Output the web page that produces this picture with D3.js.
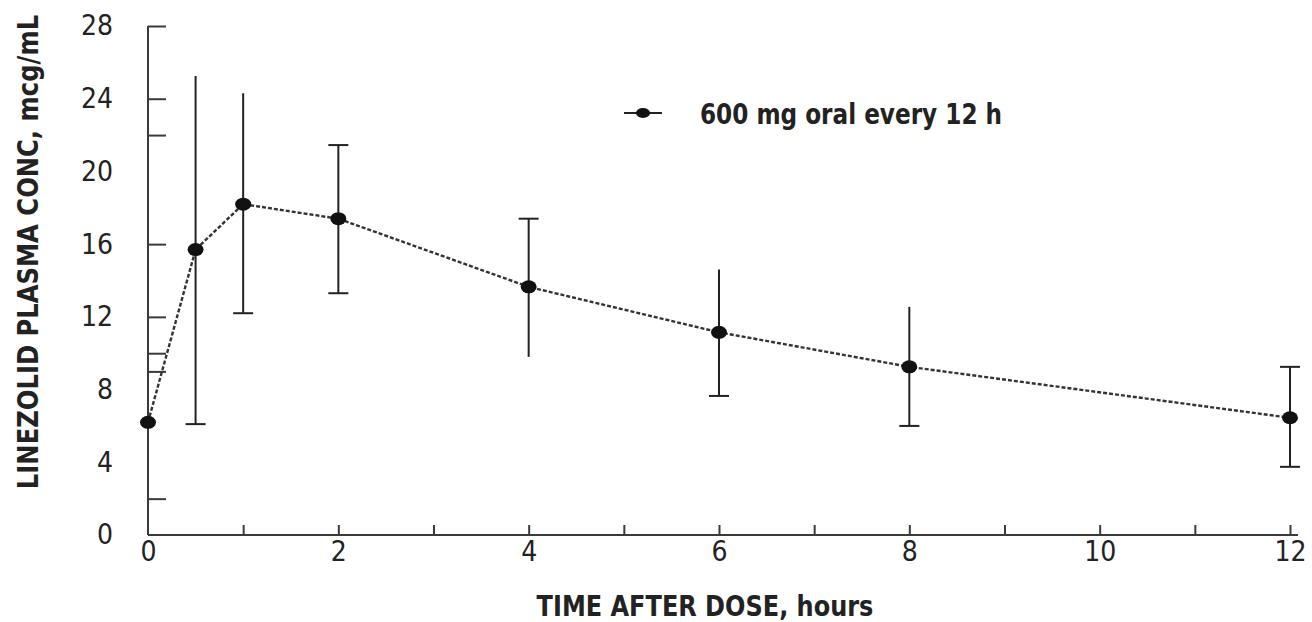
<!DOCTYPE html>
<html>
<head>
<meta charset="utf-8">
<script src="https://cdn.jsdelivr.net/npm/d3@7"></script>
<style>
  body { margin: 0; background: #fff; }
  svg text { font-family: "Liberation Sans Narrow", "DejaVu Sans Condensed", "Roboto Condensed", sans-serif; fill: #222; }
</style>
</head>
<body>
<div id="chart"></div>
<script>
// data
const hours = [0, 0.5, 1, 2, 4, 6, 8, 12];
const conc = [6.2, 15.7, 18.2, 17.4, 13.65, 11.15, 9.25, 6.45];
const concHigh = [null, 25.25, 24.3, 21.45, 17.4, 14.6, 12.55, 9.25];
const concLow = [null, 6.1, 12.2, 13.3, 9.8, 7.65, 6.0, 3.75];
const capHigh = [false, false, false, true, true, false, false, true];
const capLow = [false, true, true, true, false, true, true, true];
const yLabels = [0, 4, 8, 12, 16, 20, 24, 28];
const yTickMarks = [2, 9, 10, 12, 16, 22, 24, 28];
const xLabels = [0, 2, 4, 6, 8, 10, 12];
const xTickMarks = [1, 2, 3, 4, 5, 6, 7, 8, 9, 10, 11, 12];
const legendLabel = "600 mg oral every 12 h";

const width = 1312;
const height = 622;
const margin = { left: 148, right: 14, top: 26, bottom: 87 };

const svg = d3.select("#chart")
.append("svg")
  .attr("width", width)
  .attr("height", height);

const x = d3.scaleLinear().domain([0, 12]).range([margin.left, 1290]);
const y = d3.scaleLinear().domain([0, 28]).range([height - margin.bottom, margin.top]);

const axisColor = "#3a3a3a";

// y axis line + inward tick marks
svg.append("line")
  .attr("x1", x(0)).attr("x2", x(0))
  .attr("y1", y(0)).attr("y2", y(28))
  .attr("stroke", axisColor).attr("stroke-width", 2);

svg.append("g")
  .attr("transform", `translate(${x(0)},0)`)
  .call(d3.axisRight(y).tickValues(yTickMarks).tickSize(18).tickFormat(""))
  .call(g => g.select(".domain").remove())
  .call(g => g.selectAll("line").attr("stroke", axisColor).attr("stroke-width", 2));

// y labels
svg.append("g")
  .attr("transform", `translate(${x(0) - 35},0)`)
  .call(d3.axisLeft(y).tickValues(yLabels).tickSize(0).tickPadding(0))
  .call(g => g.select(".domain").remove())
  .call(g => g.selectAll("text").attr("font-size", 28).attr("fill", "#333"));

// x axis line + inward tick marks
svg.append("line")
  .attr("x1", x(0)).attr("x2", x(12) + 8)
  .attr("y1", y(0)).attr("y2", y(0))
  .attr("stroke", axisColor).attr("stroke-width", 2);

svg.append("g")
  .attr("transform", `translate(0,${y(0)})`)
  .call(d3.axisTop(x).tickValues(xTickMarks).tickSize(10).tickFormat(""))
  .call(g => g.select(".domain").remove())
  .call(g => g.selectAll("line").attr("stroke", axisColor).attr("stroke-width", 2));

svg.append("g")
  .attr("transform", `translate(0,${y(0) + 6})`)
  .call(d3.axisBottom(x).tickValues(xLabels).tickSize(0).tickPadding(0))
  .call(g => g.select(".domain").remove())
  .call(g => g.selectAll("text").attr("font-size", 28).attr("fill", "#333"));

// axis titles (squeezed a little to look like a condensed face)
svg.append("text")
  .attr("transform", "translate(705,616) scale(0.92,1)")
  .attr("text-anchor", "middle")
  .attr("font-size", 29).attr("font-weight", "bold")
  .text("TIME AFTER DOSE, hours");

svg.append("text")
  .attr("transform", "translate(38,252) rotate(-90) scale(0.93,1)")
  .attr("text-anchor", "middle")
  .attr("font-size", 29).attr("font-weight", "bold")
  .text("LINEZOLID PLASMA CONC, mcg/mL");

const pts = hours.map((h, i) => ({
  h: h, c: conc[i], hi: concHigh[i], lo: concLow[i], capHi: capHigh[i], capLo: capLow[i]
}));

// error bars
const bars = svg.selectAll("g.err")
.data(pts.filter(d => d.hi != null))
.enter()
.append("g")
.attr("class", "err")
.attr("stroke", "#222")
.attr("stroke-width", 2);

bars.append("line")
.attr("x1", d => x(d.h)).attr("x2", d => x(d.h))
.attr("y1", d => y(d.hi)).attr("y2", d => y(d.lo));

bars.filter(d => d.capHi).append("line")
.attr("x1", d => x(d.h) - 10).attr("x2", d => x(d.h) + 10)
.attr("y1", d => y(d.hi)).attr("y2", d => y(d.hi));

bars.filter(d => d.capLo).append("line")
.attr("x1", d => x(d.h) - 10).attr("x2", d => x(d.h) + 10)
.attr("y1", d => y(d.lo)).attr("y2", d => y(d.lo));

// dashed connecting line
svg.append("path")
.datum(pts)
.attr("fill", "none")
.attr("stroke", "#333")
.attr("stroke-width", 2.4)
.attr("stroke-dasharray", "4,2")
.attr("d", d3.line().x(d => x(d.h)).y(d => y(d.c)));

// markers
svg.selectAll("ellipse.pt")
.data(pts)
.enter()
.append("ellipse")
.attr("class", "pt")
.attr("cx", d => x(d.h)).attr("cy", d => y(d.c))
.attr("rx", 8).attr("ry", 6.5)
.attr("fill", "#111");

// legend
svg.append("line")
.attr("x1", 624).attr("x2", 662)
.attr("y1", 113).attr("y2", 113)
.attr("stroke", "#222").attr("stroke-width", 2);
svg.append("ellipse")
.attr("cx", 643).attr("cy", 113)
.attr("rx", 7).attr("ry", 5)
.attr("fill", "#111");
svg.append("text")
.attr("transform", "translate(700,124) scale(0.92,1)")
.attr("font-size", 28).attr("font-weight", "bold")
.text(legendLabel);
</script>
</body>
</html>
